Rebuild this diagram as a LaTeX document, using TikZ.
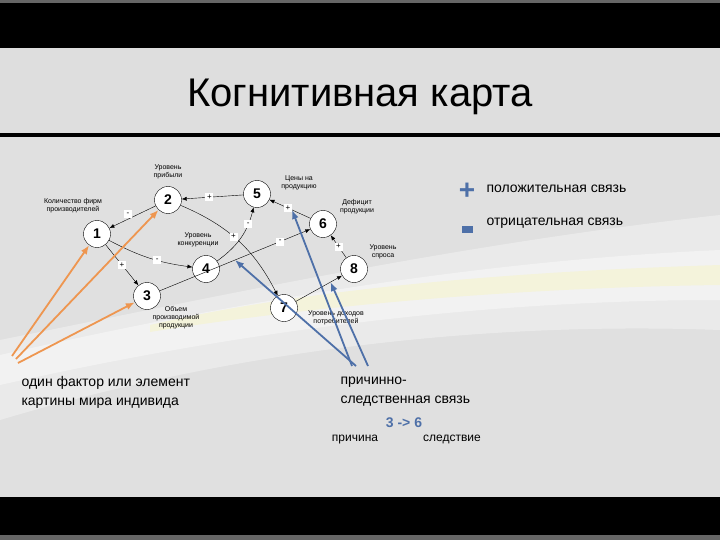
\documentclass[tikz,border=0pt]{standalone}
\usepackage{fontspec}
\setmainfont{Liberation Sans}
\usetikzlibrary{arrows.meta}
\definecolor{titlegray}{RGB}{222,222,222}
\definecolor{slidegray}{RGB}{224,224,224}
\definecolor{hintorange}{RGB}{238,150,80}
\definecolor{hintblue}{RGB}{78,112,168}
\tikzset{
  factor/.style={circle,draw,fill=white,inner sep=0pt,minimum size=27pt,font=\fontsize{14}{14}\selectfont\bfseries},
  caption/.style={align=center,font=\fontsize{7}{8}\selectfont},
  sign/.style={fill=white,inner sep=1pt,minimum size=8pt,font=\fontsize{8}{8}\selectfont},
  link/.style={-{Latex[length=5pt,width=4pt]}},
  hint/.style={-{Latex[length=9pt,width=7pt]},line width=1.8pt},
  say/.style={align=left,font=\fontsize{14}{19}\selectfont},
}
\begin{document}
\begin{tikzpicture}[x=1pt,y=-1pt]
\useasboundingbox (0,0) rectangle (720,540);
%fon
\fill[black!60] (0,0) rectangle (720,540);
\fill[black] (0,3) rectangle (720,535);
\fill[titlegray] (0,48) rectangle (720,133);
\fill[slidegray] (0,137) rectangle (720,497);
\fill[white,opacity=0.35] (0,340) .. controls (200,300) and (450,245) .. (720,215) -- (720,330) .. controls (450,320) and (200,360) .. (0,420) -- cycle;
\fill[white,opacity=0.4] (0,355) .. controls (200,310) and (450,262) .. (720,250) -- (720,300) .. controls (450,300) and (200,340) .. (0,385) -- cycle;
\fill[yellow!50,opacity=0.2] (150,325) .. controls (300,290) and (500,272) .. (720,265) -- (720,285) .. controls (500,288) and (300,308) .. (150,332) -- cycle;
\node (title) at (360,97) {\fontsize{40}{40}\selectfont Когнитивная карта};
%karta
\node[factor] (n1) at (97,234) {1};
\node[factor] (n2) at (168,200) {2};
\node[factor] (n3) at (147,296) {3};
\node[factor] (n4) at (206,269) {4};
\node[factor] (n5) at (257,194) {5};
\node[factor] (n6) at (323,224) {6};
\node[factor] (n7) at (284,308) {7};
\node[factor] (n8) at (354,269) {8};
\node[caption] (c1) at (73,206) {Количество фирм\\производителей};
\node[caption] (c2) at (168,172) {Уровень\\прибыли};
\node[caption] (c3) at (176,318) {Объем\\производимой\\продукции};
\node[caption] (c4) at (198,240) {Уровень\\конкуренции};
\node[caption] (c5) at (299,183) {Цены на\\продукцию};
\node[caption] (c6) at (357,207) {Дефицит\\продукции};
\node[caption] (c7) at (336,318) {Уровень доходов\\потребителей};
\node[caption] (c8) at (383,252) {Уровень\\спроса};
%svyazi
\draw[link] (n2) -- node[sign,pos=0.6,above=1pt]{-} (n1);
\draw[link] (n5) -- node[sign,pos=0.55]{+} (n2);
\draw[link] (n1) to[bend right=10] node[sign,pos=0.6]{-} (n4);
\draw[link] (n1) -- node[sign,pos=0.5]{+} (n3);
\draw[link] (n4) to[bend right=20] node[sign,pos=0.75]{-} (n5);
\draw[link] (n2) to[bend left=20] node[sign,pos=0.45]{+} (n7);
\draw[link] (n3) -- coordinate[pos=0.5] (e36) node[sign,pos=0.8]{-} (n6);
\draw[link] (n6) -- coordinate[pos=0.45] (e65) node[sign,pos=0.55]{+} (n5);
\draw[link] (n8) -- node[sign,pos=0.5]{+} (n6);
\draw[link] (n7) -- coordinate[pos=0.75] (e78) (n8);
%strelki
\coordinate (o1) at (12,356);
\coordinate (o2) at (16,359);
\coordinate (o3) at (18,363);
\draw[hint,hintorange] (o1) -- (n1);
\draw[hint,hintorange] (o2) -- (n2);
\draw[hint,hintorange] (o3) -- (n3);
\coordinate (b1) at (352,366);
\coordinate (b2) at (356,366);
\coordinate (b3) at (368,366);
\draw[hint,hintblue] (b1) -- (e65);
\draw[hint,hintblue] (b2) -- (e36);
\draw[hint,hintblue] (b3) -- (e78);
%legenda
\node[text=hintblue,font=\fontsize{28}{28}\selectfont\bfseries] (plus) at (467,191) {+};
\fill[hintblue] (462,226) rectangle (473,233);
\node[say,anchor=west] (pos) at (483,189) {положительная связь};
\node[say,anchor=west] (neg) at (483,223) {отрицательная связь};
\node[say,anchor=north west] (t1) at (18,373) {один фактор или элемент\\картины мира индивида};
\node[say,anchor=north west] (t2) at (337,373) {причинно-\\следственная связь};
\node[text=hintblue,font=\fontsize{14}{14}\selectfont\bfseries] (ex) at (404,423) {3 -> 6};
\node[font=\fontsize{12}{12}\selectfont,anchor=base] (cause) at (355,441) {причина};
\node[font=\fontsize{12}{12}\selectfont,anchor=base] (effect) at (452,441) {следствие};
\end{tikzpicture}
\end{document}
